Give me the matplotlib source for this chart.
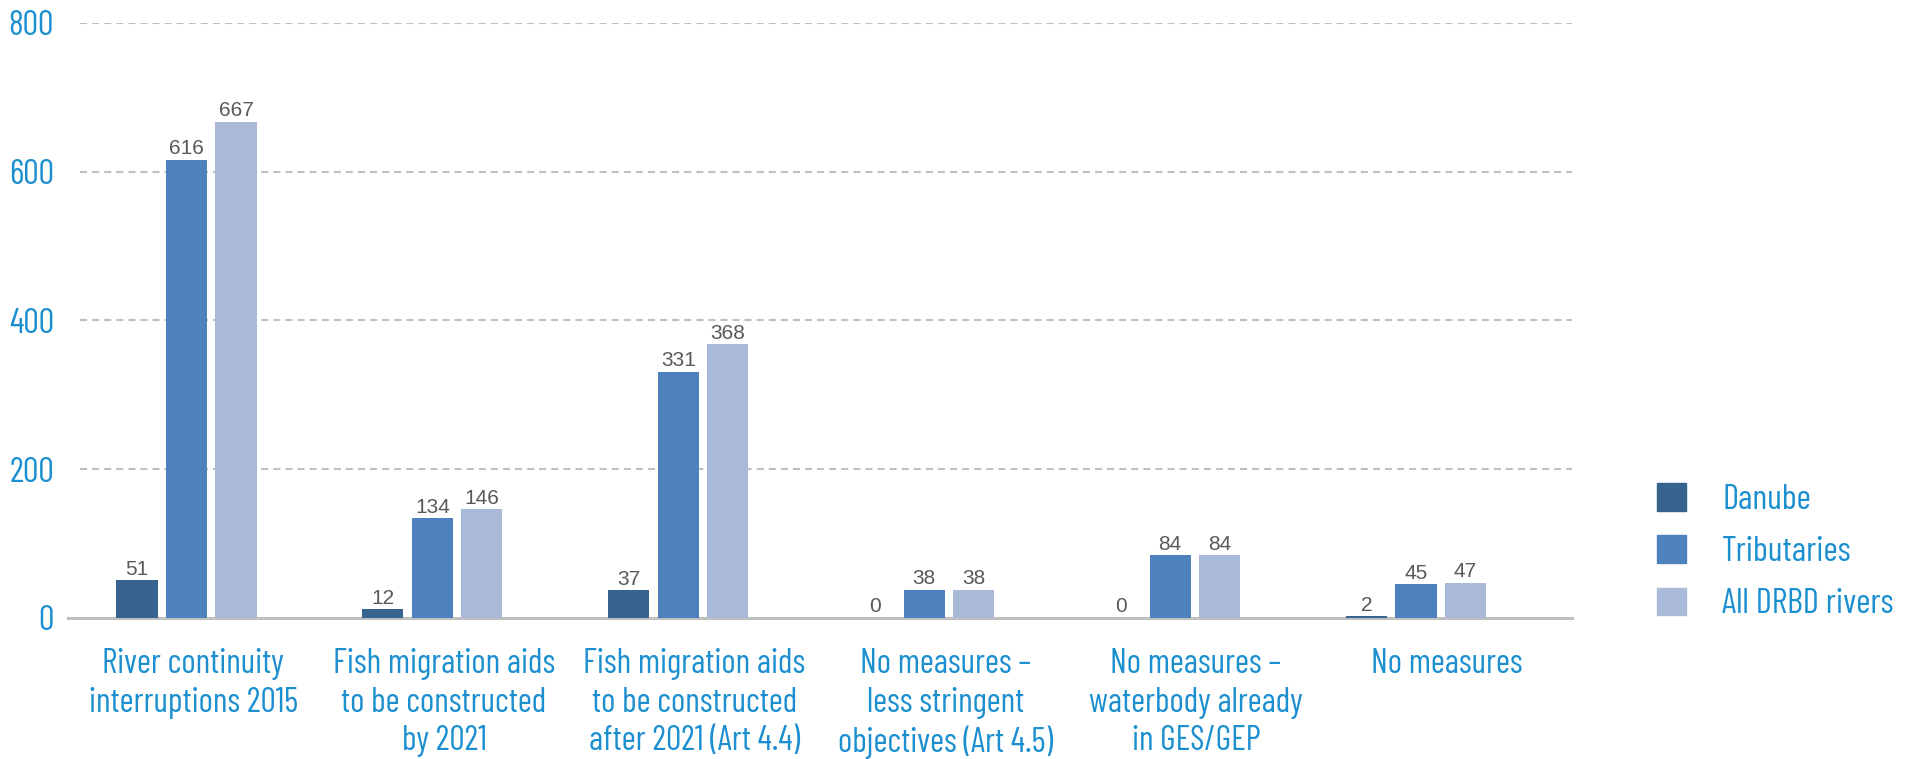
import numpy as np
import matplotlib
matplotlib.use("Agg")
import matplotlib.pyplot as plt
from matplotlib.patches import Patch

categories = [
    "River continuity\ninterruptions 2015",
    "Fish migration aids\nto be constructed\nby 2021",
    "Fish migration aids\nto be constructed\nafter 2021 (Art 4.4)",
    "No measures \u2013\nless stringent\nobjectives (Art 4.5)",
    "No measures \u2013\nwaterbody already\nin GES/GEP",
    "No measures",
]
series_names = ["Danube", "Tributaries", "All DRBD rivers"]
danube = [51, 12, 37, 0, 0, 2]
tributaries = [616, 134, 331, 38, 84, 45]
all_rivers = [667, 146, 368, 38, 84, 47]
yticks = [0, 200, 400, 600, 800]

colors = ["#36648f", "#4f81bd", "#aab9d7"]
label_blue = "#1b8fcf"
narrow = ["Barlow Condensed", "Liberation Sans Narrow", "DejaVu Sans"]

fig = plt.figure(figsize=(19.09, 7.59), dpi=100)
ax = fig.add_axes([0.0356, 0.186, 0.7878, 0.784])

# category slots are 0..6, the bar groups sit a bit left of the slot centres
slots = np.arange(len(categories)) + 0.5
groups = 0.473 + 0.981 * np.arange(len(categories))
width = 0.164
offset = 0.1975
for i, (vals, name) in enumerate(zip([danube, tributaries, all_rivers], series_names)):
    bars = ax.bar(groups + (i - 1) * offset, vals, width, color=colors[i], label=name, zorder=3)
    ax.bar_label(bars, padding=1, fontsize=15, color="#595959", family="Liberation Sans")

ax.set_ylim(0, 800)
ax.set_xlim(0, 6)
ax.set_yticks(yticks)
ax.set_yticklabels([str(v) for v in yticks], family=narrow, fontsize=25, color=label_blue)
ax.set_xticks(slots)
ax.set_xticklabels(categories, family=narrow, fontsize=24.5, color=label_blue, linespacing=1.25)
ax.tick_params(axis="both", length=0)
ax.tick_params(axis="y", pad=10)
ax.tick_params(axis="x", pad=22)

for v in yticks[1:]:
    ax.axhline(v, xmin=0.008, color="#c0c0c0", lw=1.5, ls=(0, (3.4, 2.4)), zorder=1)
for s in ["top", "right", "left"]:
    ax.spines[s].set_visible(False)
ax.spines["bottom"].set_color("#bfbfbf")
ax.spines["bottom"].set_linewidth(2.2)

handles = [Patch(color=c) for c in colors]
leg = fig.legend(handles, series_names, loc="center left", bbox_to_anchor=(0.868, 0.273),
                 frameon=False, borderpad=0, borderaxespad=0,
                 handlelength=0.835, handleheight=0.835,
                 handletextpad=1.04, labelspacing=0.56,
                 prop={"family": narrow, "size": 25})
for t in leg.get_texts():
    t.set_color(label_blue)

fig.savefig("out.png", dpi=100)
